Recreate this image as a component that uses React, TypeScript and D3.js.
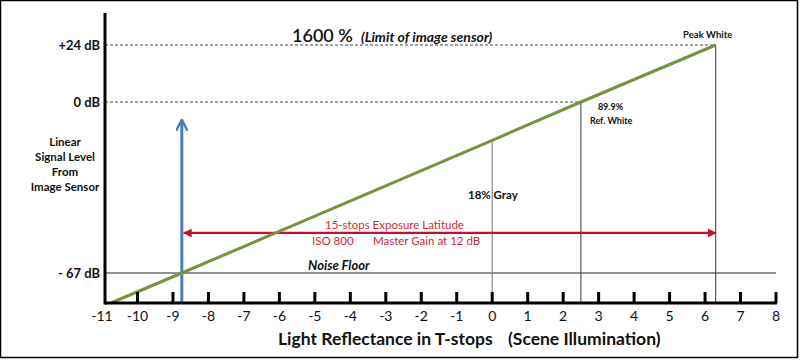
import React from "react";
import * as d3 from "d3";

const tickStops = [-11, -10, -9, -8, -7, -6, -5, -4, -3, -2, -1, 0, 1, 2, 3, 4, 5, 6, 7, 8];
const dbLevels = [24, 0, -67];
const dbLabels = ["+24 dB", "0 dB", "- 67 dB"];
const responseStops = [-10.75, -8.75, 0, 2.5, 6.3];
const responseDb = [-79, -67, -15, 0, 24];
const yTitleLines = ["Linear", "Signal Level", "From", "Image Sensor"];
const latitudeStart = -8.75;
const latitudeEnd = 6.3;
const latitudeDb = -51.3;
const arrowTopDb = -7;

const W = 800;
const H = 360;

export default function App() {
  const x = d3.scaleLinear().domain([-11, 8]).range([102, 776]);
  const y = d3.scaleLinear().domain([-79, -67, 0, 24]).range([303, 273, 102, 45]);
  const axisX = 105;
  const axisY = y(-79);
  const font = "Lato, 'Open Sans', sans-serif";

  const pts = responseStops.map((s, i) => [s, responseDb[i]] as [number, number]);
  const line = d3.line<[number, number]>().x((d) => x(d[0])).y((d) => y(d[1]));

  const gray = pts[2];
  const refW = pts[3];
  const peak = pts[4];

  return (
    <svg width={W} height={H} style={{ position: "absolute", left: 0, top: 0, background: "#fff" }} fontFamily={font}>
      <defs>
        <marker id="redHead" viewBox="0 0 10 10" refX="9" refY="5" markerWidth="4" markerHeight="4" orient="auto-start-reverse">
          <path d="M0,0 L10,5 L0,10 z" fill="#c8102e" />
        </marker>
        <marker id="blueHead" viewBox="0 0 10 10" refX="8" refY="5" markerWidth="4" markerHeight="4" orient="auto">
          <path d="M0,0 L10,5 L0,10" fill="none" stroke="#4a7ebb" strokeWidth="2" />
        </marker>
      </defs>
      <rect x={0.5} y={0.5} width={W - 3} height={H - 3} fill="#fff" stroke="#000" strokeWidth={1.5} />

      {/* dashed level lines */}
      <line x1={axisX} x2={x(peak[0])} y1={y(24)} y2={y(24)} stroke="#444" strokeDasharray="3,2" strokeWidth={1} />
      <line x1={axisX} x2={x(refW[0])} y1={y(0)} y2={y(0)} stroke="#444" strokeDasharray="3,2" strokeWidth={1} />
      {/* noise floor */}
      <line x1={axisX} x2={x(8)} y1={y(-67)} y2={y(-67)} stroke="#222" strokeWidth={1} />

      {/* vertical markers */}
      <line x1={x(gray[0])} x2={x(gray[0])} y1={y(gray[1])} y2={axisY} stroke="#888" strokeWidth={1.2} />
      <line x1={x(refW[0])} x2={x(refW[0])} y1={y(refW[1])} y2={axisY} stroke="#333" strokeWidth={1} />
      <line x1={x(peak[0])} x2={x(peak[0])} y1={y(peak[1])} y2={axisY} stroke="#333" strokeWidth={1} />

      {/* blue arrow */}
      <line x1={x(latitudeStart)} x2={x(latitudeStart)} y1={axisY} y2={y(arrowTopDb) + 2} stroke="#4a7ebb" strokeWidth={3} markerEnd="url(#blueHead)" />

      {/* red latitude arrow */}
      <line x1={x(latitudeStart) + 2} x2={x(latitudeEnd)} y1={y(latitudeDb)} y2={y(latitudeDb)} stroke="#c8102e" strokeWidth={2.2} markerStart="url(#redHead)" markerEnd="url(#redHead)" />

      {/* response line */}
      <path d={line(pts) || ""} fill="none" stroke="#77933c" strokeWidth={3} />

      {/* axes */}
      <line x1={axisX} x2={axisX} y1={13} y2={axisY + 1.5} stroke="#000" strokeWidth={3} />
      <line x1={axisX} x2={x(8) + 1} y1={axisY} y2={axisY} stroke="#000" strokeWidth={3} />
      {tickStops.filter((t) => t > -11).map((t) => (
        <line key={"t" + t} x1={x(t)} x2={x(t)} y1={axisY - 11} y2={axisY} stroke="#000" strokeWidth={3} />
      ))}
      {tickStops.map((t) => (
        <text key={"l" + t} x={x(t)} y={axisY + 18} textAnchor="middle" fontSize={14} fill="#111">{t}</text>
      ))}

      {/* y labels */}
      {dbLevels.map((d, i) => (
        <text key={"d" + d} x={100} y={y(d) + 5} textAnchor="end" fontSize={13} fontWeight="bold" fill="#111">{dbLabels[i]}</text>
      ))}
      {yTitleLines.map((s, i) => (
        <text key={s} x={65} y={146 + i * 15} textAnchor="middle" fontSize={11.5} fontWeight="bold" fill="#111">{s}</text>
      ))}

      {/* annotations */}
      <text x={292} y={42} fontSize={18} fontWeight={600} fill="#111">1600 %</text>
      <text x={361} y={42} fontSize={14} fontWeight="bold" fontStyle="italic" fill="#111">(Limit of image sensor)</text>
      <text x={x(peak[0]) - 8} y={38} textAnchor="middle" fontSize={9.5} fontWeight="bold" fill="#111">Peak White</text>
      <text x={x(refW[0]) + 17} y={110} fontSize={9} fontWeight="bold" fill="#111">89.9%</text>
      <text x={x(refW[0]) + 9} y={124} fontSize={9} fontWeight="bold" fill="#111">Ref. White</text>
      <text x={468} y={199} fontSize={11.5} fontWeight="bold" fill="#111">18%  Gray</text>
      <text x={325} y={229} fontSize={11.5} fill="#d42a2a">15-stops Exposure Latitude</text>
      <text x={312} y={245} fontSize={11.5} fill="#d42a2a">ISO 800</text>
      <text x={373} y={245} fontSize={11.5} fill="#d42a2a">Master Gain at 12 dB</text>
      <text x={308} y={270} fontSize={13} fontWeight="bold" fontStyle="italic" fill="#111">Noise Floor</text>

      {/* x axis title */}
      <text x={278} y={345} fontSize={17.5} fontWeight="bold" fill="#111">Light Reflectance in T-stops</text>
      <text x={508} y={345} fontSize={17.5} fontWeight="bold" fill="#111">(Scene Illumination)</text>
    </svg>
  );
}
